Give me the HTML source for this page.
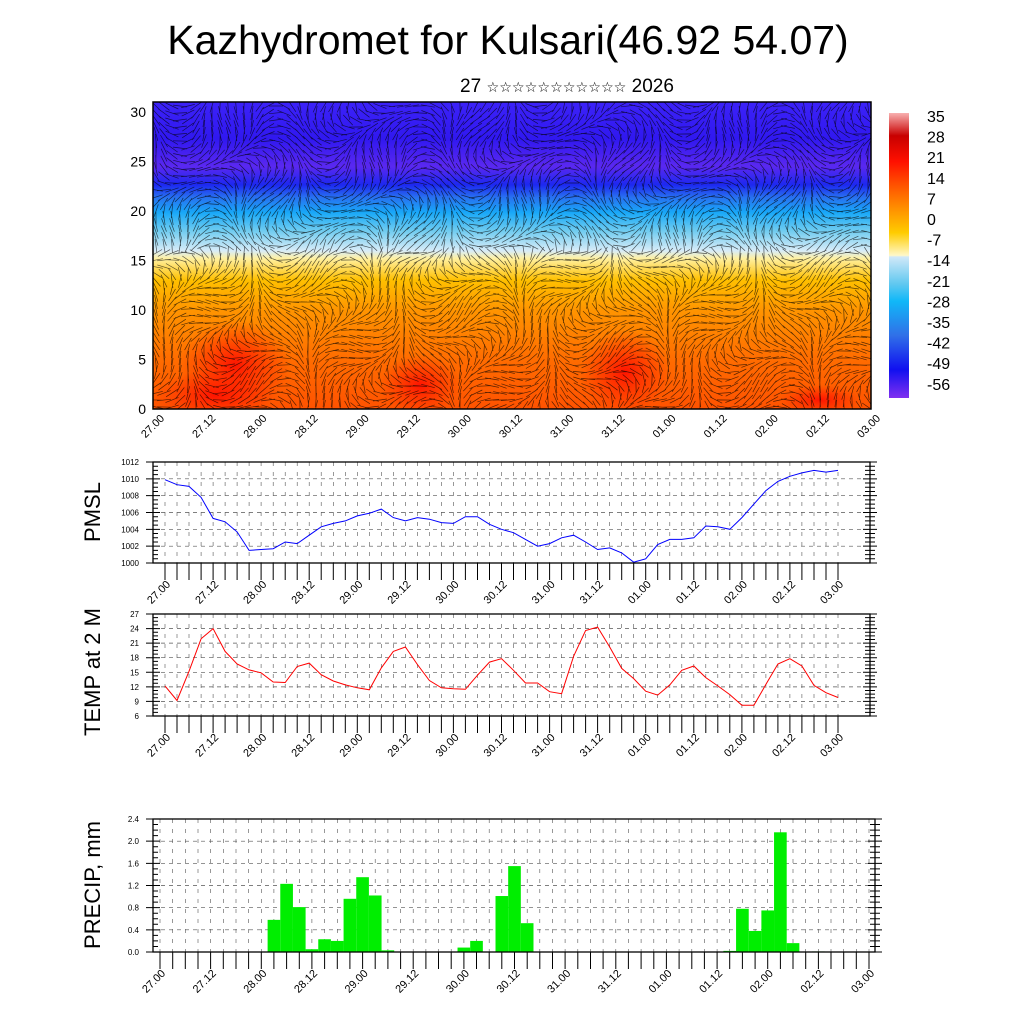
<!DOCTYPE html>
<html><head><meta charset="utf-8"><style>
html,body{margin:0;padding:0;background:#fff;}
svg{display:block;font-family:"Liberation Sans","DejaVu Sans",sans-serif;}
</style></head><body>
<svg id="chart" width="1024" height="1024" viewBox="0 0 1024 1024" xmlns="http://www.w3.org/2000/svg">
<defs>
<linearGradient id="vg" x1="0" y1="1" x2="0" y2="0">
<stop offset="0" stop-color="#ff5200"/>
<stop offset="0.16" stop-color="#ff6c00"/>
<stop offset="0.32" stop-color="#ff9400"/>
<stop offset="0.42" stop-color="#ffc000"/>
<stop offset="0.49" stop-color="#fff0a0"/>
<stop offset="0.515" stop-color="#d8ecf8"/>
<stop offset="0.58" stop-color="#70ccf0"/>
<stop offset="0.64" stop-color="#18a8f8"/>
<stop offset="0.69" stop-color="#2870f0"/>
<stop offset="0.73" stop-color="#1c28f0"/>
<stop offset="0.79" stop-color="#5a28f0"/>
<stop offset="0.88" stop-color="#3018f0"/>
<stop offset="1" stop-color="#3c22f8"/>
</linearGradient>
<radialGradient id="red" cx="0.5" cy="0.5" r="0.5">
<stop offset="0" stop-color="#ff1000" stop-opacity="0.95"/>
<stop offset="1" stop-color="#ff2000" stop-opacity="0"/>
</radialGradient>
<linearGradient id="cb" x1="0" y1="0" x2="0" y2="1">
<stop offset="0" stop-color="#f8b0b0"/>
<stop offset="0.08" stop-color="#c80000"/>
<stop offset="0.17" stop-color="#ff1000"/>
<stop offset="0.25" stop-color="#ff5000"/>
<stop offset="0.33" stop-color="#ff8c00"/>
<stop offset="0.42" stop-color="#ffcc00"/>
<stop offset="0.5" stop-color="#fff8c8"/>
<stop offset="0.505" stop-color="#d0e8f8"/>
<stop offset="0.6" stop-color="#60c8f0"/>
<stop offset="0.66" stop-color="#10b8f8"/>
<stop offset="0.78" stop-color="#3070e8"/>
<stop offset="0.9" stop-color="#1010f0"/>
<stop offset="1" stop-color="#8030f0"/>
</linearGradient>
<clipPath id="topclip"><rect x="153" y="102" width="718" height="307"/></clipPath>
</defs>
<text x="508" y="54" font-size="41" text-anchor="middle">Kazhydromet for Kulsari(46.92 54.07)</text>
<text x="567" y="92" font-size="19" text-anchor="middle">27 <tspan font-size="14.2">☆☆☆☆☆☆☆☆☆☆☆</tspan> 2026</text>
<g id="topPanel"></g>
<g id="colorbar"></g>
<g id="pmsl"></g>
<g id="temp"></g>
<g id="precip"></g>
</svg>
<script>
const timeLabels=["27.00","27.12","28.00","28.12","29.00","29.12","30.00","30.12","31.00","31.12","01.00","01.12","02.00","02.12","03.00"];
const heightTicks=[0,5,10,15,20,25,30];
const colorbarLabels=[35,28,21,14,7,0,-7,-14,-21,-28,-35,-42,-49,-56];
const pmslValues=[1009.9,1009.3,1009.1,1007.8,1005.3,1004.9,1003.7,1001.5,1001.6,1001.7,1002.5,1002.3,1003.3,1004.3,1004.7,1005.0,1005.6,1005.9,1006.4,1005.4,1005.0,1005.4,1005.2,1004.8,1004.7,1005.5,1005.5,1004.6,1004.0,1003.6,1002.8,1002.0,1002.3,1003.0,1003.3,1002.5,1001.6,1001.8,1001.2,1000.1,1000.5,1002.2,1002.8,1002.8,1003.0,1004.4,1004.3,1004.0,1005.4,1007.0,1008.6,1009.7,1010.3,1010.7,1011.0,1010.8,1011.0];
const pmslTicks=[1000,1002,1004,1006,1008,1010,1012];
const tempValues=[12.2,9.2,15.2,21.9,24.0,19.3,16.7,15.5,14.9,13.0,12.9,16.2,16.9,14.5,13.2,12.4,11.8,11.4,15.9,19.3,20.2,16.6,13.3,11.8,11.6,11.5,14.4,17.1,17.8,15.4,12.8,12.8,11.0,10.6,18.3,23.6,24.3,20.2,15.8,13.7,11.1,10.3,12.4,15.4,16.3,13.9,12.2,10.4,8.2,8.2,12.5,16.7,17.8,16.3,12.3,10.8,9.8];
const tempTicks=[6,9,12,15,18,21,24,27];
const precipValues=[0,0,0,0,0,0,0,0,0,0.58,1.23,0.81,0.05,0.23,0.2,0.96,1.35,1.02,0.03,0,0,0,0,0,0.08,0.2,0,1.01,1.55,0.52,0,0,0,0,0,0,0,0,0,0,0,0,0,0,0,0.02,0.78,0.38,0.75,2.16,0.16,0,0.01,0,0,0,0];
const precipTicks=[0.0,0.4,0.8,1.2,1.6,2.0,2.4];

const NS="http://www.w3.org/2000/svg";
function mk(parent,tag,attrs){const e=document.createElementNS(NS,tag);for(const k in attrs)e.setAttribute(k,attrs[k]);parent.appendChild(e);return e;}
const NL=timeLabels.length-1;

/* ---------- top cross-section panel ---------- */
const topG=document.getElementById('topPanel');
const tX0=153,tX1=869,tY0=409,tPerUnit=9.9;
const tx=i=>tX0+(tX1-tX0)*i/NL;
const ty=v=>tY0-v*tPerUnit;
let r=mk(topG,'rect',{x:153,y:102,width:718,height:307,fill:'url(#vg)'});


const blobs=[[235,365,55,45],[420,385,40,30],[625,372,45,42],[215,395,60,25],[820,400,40,15]];
const bg=mk(topG,'g',{'clip-path':'url(#topclip)'});
blobs.forEach(b=>{const e=mk(bg,'ellipse',{cx:b[0],cy:b[1],rx:b[2],ry:b[3],fill:'url(#red)'});

});
const wg=mk(topG,'g',{'clip-path':'url(#topclip)',stroke:'#000','stroke-opacity':'0.65','stroke-width':'0.7'});


let d='';
for(let x=156;x<871;x+=8){for(let y=106;y<409;y+=7){
 const a=Math.sin(x*0.037+y*0.021)*1.4+Math.cos(y*0.05-x*0.013)*0.9+((y>250)?1.2:0.3);
 const L=7;d+=`M${(x-Math.cos(a)*L).toFixed(1)},${(y-Math.sin(a)*L).toFixed(1)}L${(x+Math.cos(a)*L).toFixed(1)},${(y+Math.sin(a)*L).toFixed(1)}`;}}
mk(wg,'path',{d:d,fill:'none'});
r=mk(topG,'rect',{x:153,y:102,width:718,height:307,fill:'none',stroke:'#000','stroke-width':1.5});


heightTicks.forEach(v=>{const t=mk(topG,'text',{x:146,y:ty(v)+5,'font-size':14,'text-anchor':'end'});t.textContent=v;

});
timeLabels.forEach((s,i)=>{const x=tx(i);const t=mk(topG,'text',{transform:`translate(${x+12},${419}) rotate(-45)`,'font-size':11,'text-anchor':'end'});t.textContent=s;

});

/* ---------- colorbar ---------- */
const cbg=document.getElementById('colorbar');
r=mk(cbg,'rect',{x:889,y:113,width:20,height:285,fill:'url(#cb)'});


colorbarLabels.forEach((v,i)=>{const t=mk(cbg,'text',{x:927,y:122+i*20.6,'font-size':16});t.textContent=v;

});

/* ---------- line / bar panels ---------- */
function panel(gid,cfg){
 const g=document.getElementById(gid);
 const {fx0,fx1,fy0,fy1,dx0,dx1,ticks,vmin,vmax,title,titleY,fmt}=cfg;
 const n=cfg.values.length;
 const X=i=>dx0+(dx1-dx0)*i/(n-1);
 const Y=v=>fy1-(v-vmin)/(vmax-vmin)*(fy1-fy0);
 let gp='';
 for(let i=0;i<n;i++){gp+=`M${X(i).toFixed(1)},${fy0}L${X(i).toFixed(1)},${fy1}`;}
 let e=mk(g,'path',{d:gp,stroke:'#555','stroke-width':0.6,'stroke-dasharray':'4,6',fill:'none'});
 
 
 let hp='';ticks.forEach(v=>{hp+=`M${fx0},${Y(v).toFixed(1)}L${fx1},${Y(v).toFixed(1)}`;});
 e=mk(g,'path',{d:hp,stroke:'#555','stroke-width':0.7,'stroke-dasharray':'4,4',fill:'none'});
 
 
 if(cfg.bars){
  const w=(dx1-dx0)/(n-1);
  cfg.values.forEach((v,i)=>{if(v<=0)return;const b=mk(g,'rect',{x:X(i)-w/2,y:Y(v),width:w,height:Y(0)-Y(v),fill:'#00ee00'});
  
  });
 } else {
  const pts=cfg.values.map((v,i)=>X(i).toFixed(1)+','+Y(v).toFixed(1)).join(' ');
  e=mk(g,'polyline',{points:pts,fill:'none',stroke:cfg.color,'stroke-width':1});
  
  
 }
 e=mk(g,'rect',{x:fx0,y:fy0,width:fx1-fx0,height:fy1-fy0,fill:'none',stroke:'#000','stroke-width':1.3});
 
 
 let sp='';
 ticks.forEach((v,k)=>{const y=Y(v);sp+=`M${fx0-7},${y}L${fx0+7},${y}M${fx1-7},${y}L${fx1+7},${y}`;
  if(k<ticks.length-1){const st=(Y(ticks[k+1])-y)/4;for(let j=1;j<4;j++){const yy=y+st*j;sp+=`M${fx0},${yy}L${fx0+5},${yy}M${fx1-5},${yy}L${fx1+5},${yy}`;}}});
 for(let i=0;i<n;i++){sp+=`M${X(i).toFixed(1)},${fy1}L${X(i).toFixed(1)},${fy1+17}`;}
 e=mk(g,'path',{d:sp,stroke:'#000','stroke-width':1,fill:'none'});
 
 
 ticks.forEach(v=>{const t=mk(g,'text',{x:fx0-14,y:Y(v)+3,'font-size':8,'text-anchor':'end'});t.textContent=fmt(v);
 
 });
 const lx0=cfg.lx0,lx1=cfg.lx1;
 timeLabels.forEach((s,i)=>{const x=lx0+(lx1-lx0)*i/NL;const t=mk(g,'text',{transform:`translate(${x+6},${fy1+22}) rotate(-45)`,'font-size':11,'text-anchor':'end'});t.textContent=s;
 
 });
 const tt=mk(g,'text',{transform:`translate(100,${titleY}) rotate(-90)`,'font-size':22,'text-anchor':'middle'});tt.textContent=title;
 
 
}
panel('pmsl',{fx0:153,fx1:870,fy0:462,fy1:563,dx0:165,dx1:838,lx0:165,lx1:838,values:pmslValues,ticks:pmslTicks,vmin:1000,vmax:1012,title:'PMSL',titleY:512,fmt:v=>v,color:'#0000ff',lineName:'pmsl-line'});
panel('temp',{fx0:153,fx1:870,fy0:614,fy1:716,dx0:165,dx1:838,lx0:165,lx1:838,values:tempValues,ticks:tempTicks,vmin:6,vmax:27,title:'TEMP at 2 M',titleY:672,fmt:v=>v,color:'#ff0000',lineName:'temp-line'});
panel('precip',{fx0:153,fx1:875,fy0:819,fy1:952,dx0:160,dx1:869,lx0:160,lx1:869,values:precipValues,ticks:precipTicks,vmin:0,vmax:2.4,title:'PRECIP, mm',titleY:885,fmt:v=>v.toFixed(1),bars:true});
</script>
</body></html>
